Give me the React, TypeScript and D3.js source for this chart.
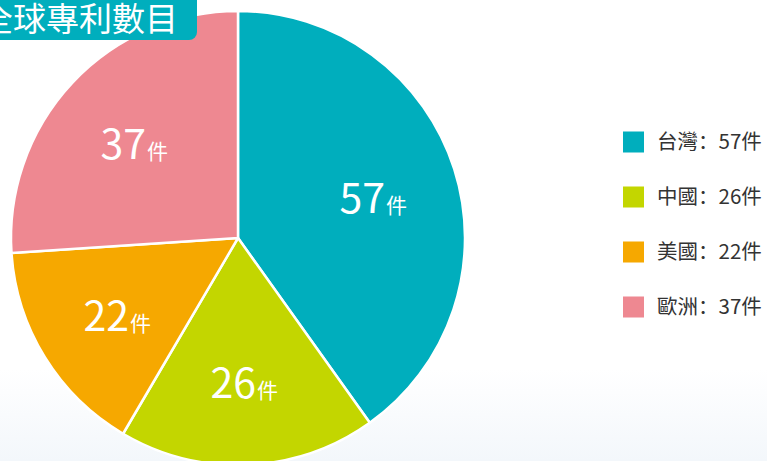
import React from "react";
import * as d3 from "d3";

const categories = ["台灣", "中國", "美國", "歐洲"];
const values = [57, 26, 22, 37];
const colors = ["#00AEBD", "#C3D600", "#F6A800", "#EE8891"];
const unit = "件";
const title = "全球專利數目";

export default function App() {
  const W = 767, H = 461;
  const cx = 238, cy = 238, r = 227;
  const pie = d3.pie<number>().sort(null).value((d) => d)(values);
  const arc = d3.arc<d3.PieArcDatum<number>>().innerRadius(0).outerRadius(r);
  const labelArc = d3.arc<d3.PieArcDatum<number>>().innerRadius(284).outerRadius(0);
  const font = "'Noto Sans CJK TC', 'Noto Sans', sans-serif";
  const legendY = d3.scalePoint<number>().domain(d3.range(categories.length)).range([142, 307]);
  return (
    <svg width={W} height={H} style={{ position: "absolute", left: 0, top: 0 }} fontFamily={font}>
      <defs>
        <linearGradient id="bg" x1="0" y1="0" x2="0" y2="1">
          <stop offset="0" stopColor="#ffffff" />
          <stop offset="0.8" stopColor="#ffffff" />
          <stop offset="1" stopColor="#f3f7fb" />
        </linearGradient>
      </defs>
      <rect width={W} height={H} fill="url(#bg)" />
      <g transform={`translate(${cx},${cy})`}>
        {pie.map((p, i) => (
          <path key={i} d={arc(p) || ""} fill={colors[i]} stroke="#fff" strokeWidth={2.5} strokeLinejoin="round" />
        ))}
        {pie.map((p, i) => {
          const [x, y] = labelArc.centroid(p);
          return (
            <text key={i} x={x} y={y + 18} textAnchor="middle" fill="#fff" fontWeight={400}>
              <tspan fontSize={41}>{values[i]}</tspan>
              <tspan fontSize={21} dx={1}>{unit}</tspan>
            </text>
          );
        })}
      </g>
      <rect x={-20} y={-12} width={217} height={52} rx={8} fill="#00AEBD" />
      <text x={-20} y={31} fill="#fff" fontSize={33} fontWeight={400}>{title}</text>
      {categories.map((c, i) => (
        <g key={c} transform={`translate(623,${legendY(i)})`}>
          <rect x={0} y={-10.5} width={21} height={21} fill={colors[i]} />
          <text x={34} y={7} fontSize={20.5} fill="#333">
            <tspan>{c}</tspan>
            <tspan fontFamily="'Noto Sans CJK SC', sans-serif">：</tspan>
            <tspan>{values[i]}{unit}</tspan>
          </text>
        </g>
      ))}
    </svg>
  );
}
